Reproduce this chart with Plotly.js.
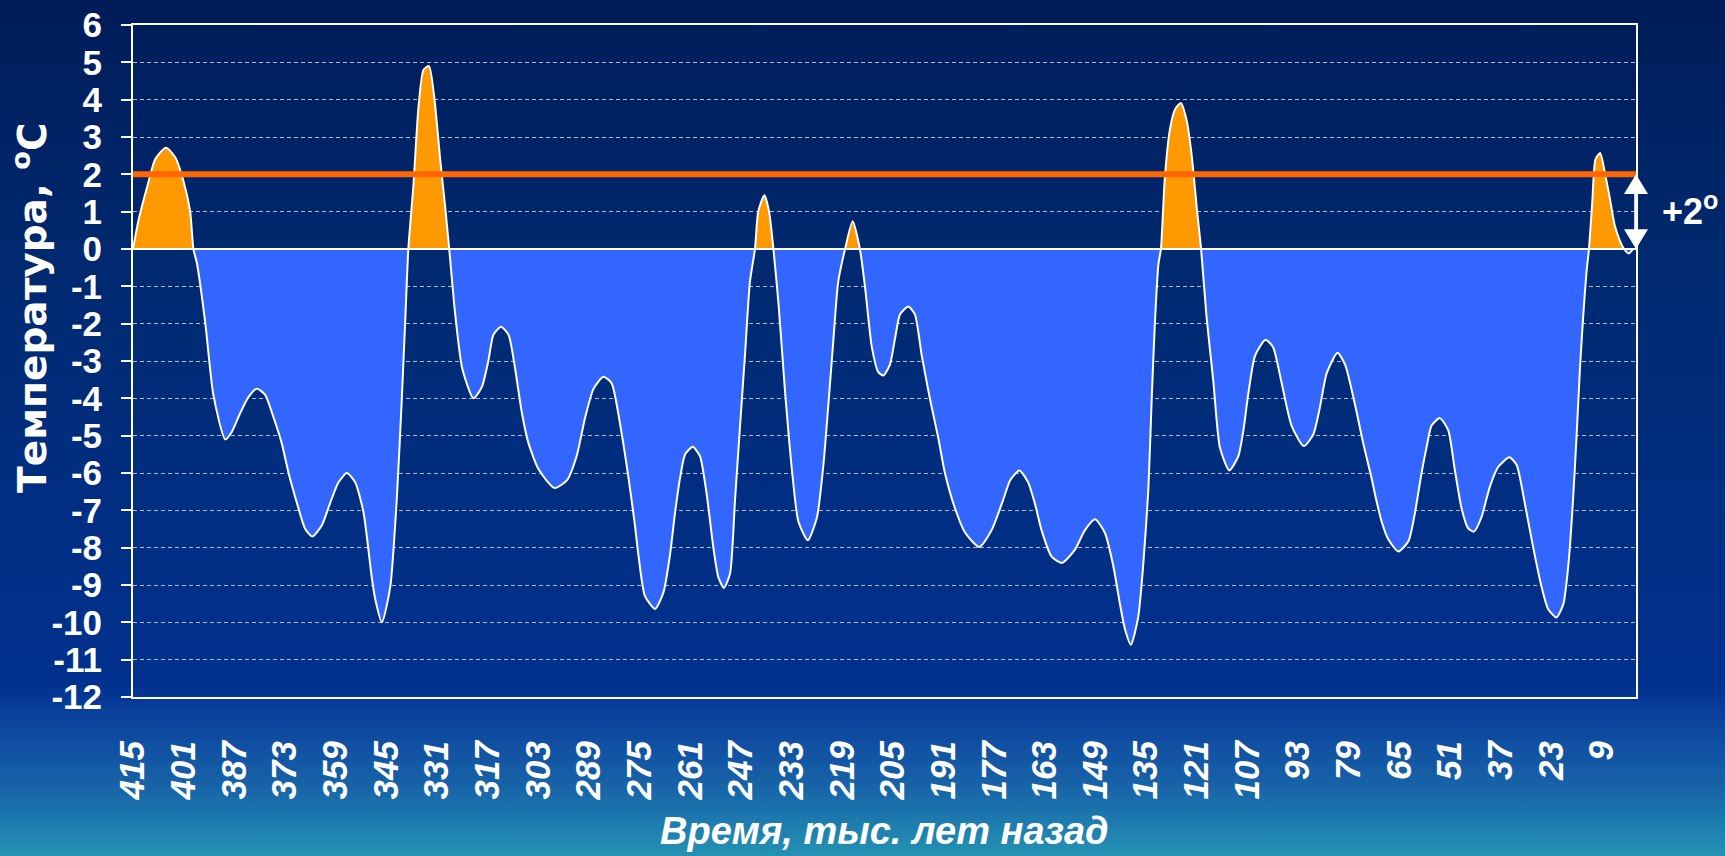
<!DOCTYPE html>
<html>
<head>
<meta charset="utf-8">
<script src="https://cdn.plot.ly/plotly-3.0.1.min.js"></script>
<style>
  html, body { margin: 0; padding: 0; width: 1725px; height: 856px; overflow: hidden; }
  body { background: linear-gradient(to bottom, #001c58 0%, #00296f 30%, #00318e 80%, #0a3f9c 83%, #1864a8 92%, #2392b3 100%); }
  #chart { width: 1725px; height: 856px; }
</style>
</head>
<body>
<div id="chart"></div>
<script>
// Time, thousand years ago
const years = [
  415, 413.5, 410.7, 408.9, 405.9, 403.3, 401.0, 399.2, 398.3, 397.3, 395.0, 392.8,
  389.5, 387.7, 385.4, 383.1, 380.8, 378.5, 376.2, 373.9, 372.0, 369.7, 367.4, 365.4,
  362.8, 360.5, 358.2, 355.9, 353.6, 351.3, 349.0, 348.0, 346.2, 343.9, 342.1, 340.7,
  339.8, 338.9, 337.5, 336.1, 334.7, 333.2, 331.7, 330.1, 328.7, 327.6, 326.0, 324.0,
  320.9, 318.6, 316.8, 315.4, 313.3, 311.2, 309.4, 307.5, 305.7, 302.9, 298.5, 295.1,
  292.4, 290.0, 287.7, 285.0, 282.7, 279.9, 278.1, 276.4, 275.3, 273.5, 270.7, 268.4,
  266.6, 265.2, 263.8, 262.4, 260.3, 258.3, 256.4, 254.6, 253.2, 251.7, 250.0, 248.6,
  247.2, 245.8, 244.5, 243.1, 242.2, 240.5, 239.2, 238.0, 236.6, 234.8, 232.9, 231.1,
  228.5, 226.0, 224.2, 222.8, 221.4, 220.1, 218.2, 216.1, 214.1, 212.7, 210.8, 209.0,
  207.6, 205.8, 204.4, 203.0, 200.7, 198.9, 197.0, 194.7, 192.4, 190.6, 187.8, 185.0,
  181.1, 177.7, 174.5, 172.6, 170.0, 167.6, 165.7, 163.9, 161.1, 158.3, 154.7, 151.9,
  149.1, 146.4, 144.1, 142.2, 140.8, 139.2, 137.2, 135.8, 134.4, 133.5, 132.6, 131.6,
  130.9, 129.8, 128.4, 127.0, 125.4, 123.8, 122.4, 121.0, 119.8, 118.3, 116.4, 114.6,
  112.0, 109.5, 108.1, 106.8, 104.9, 102.0, 99.9, 97.6, 94.8, 91.4, 88.8, 87.0,
  85.1, 82.1, 80.0, 77.3, 75.0, 72.7, 71.8, 69.9, 68.1, 65.3, 62.5, 60.7,
  58.9, 57.5, 56.1, 53.8, 51.5, 49.7, 47.8, 46.0, 44.4, 42.3, 40.0, 37.7,
  34.6, 32.6, 30.3, 28.0, 25.7, 23.9, 21.6, 19.7, 18.3, 17.0, 16.0, 15.1,
  14.2, 13.3, 12.6, 11.7, 10.8, 9.5, 8.2, 6.8, 5.5, 4.1, 2.9, 1.6, 0.4
];
// Temperature anomaly, °C
const temps = [
  0, 0.76, 1.8, 2.4, 2.71, 2.45, 1.8, 1.0, 0, -0.4, -2.0, -3.9,
  -5.1, -4.9, -4.4, -3.97, -3.74, -3.9, -4.5, -5.2, -6.0, -6.8, -7.5, -7.7,
  -7.4, -6.8, -6.25, -6.0, -6.25, -7.05, -8.8, -9.4, -10.0, -9.05, -6.7, -4.0,
  -2.0, 0, 1.7, 3.8, 4.8, 4.9, 4.03, 2.4, 1.1, 0, -1.7, -3.2,
  -4.0, -3.7, -3.0, -2.3, -2.08, -2.3, -3.2, -4.4, -5.2, -5.9, -6.4, -6.2,
  -5.55, -4.5, -3.74, -3.42, -3.6, -4.97, -6.1, -7.3, -8.2, -9.3, -9.64, -9.2,
  -8.2, -7.07, -6.13, -5.5, -5.3, -5.55, -6.6, -8.0, -8.8, -9.08, -8.7, -6.7,
  -4.7, -2.75, -0.88, 0, 1.0, 1.44, 1.0, 0, -1.46, -3.8, -5.9, -7.3,
  -7.8, -7.2, -5.8, -4.15, -2.4, -0.88, 0, 0.74, 0, -1.0, -2.63, -3.3,
  -3.39, -3.1, -2.4, -1.75, -1.54, -1.75, -2.86, -4.03, -5.08, -6.0, -6.95, -7.6,
  -7.98, -7.53, -6.72, -6.2, -5.93, -6.25, -6.83, -7.53, -8.24, -8.41, -8.06, -7.53,
  -7.24, -7.6, -8.47, -9.52, -10.2, -10.6, -9.87, -8.47, -6.48, -4.15, -2.04, -0.41,
  0, 1.93, 3.21, 3.74, 3.91, 3.45, 2.51, 1.11, 0, -1.81, -3.56, -5.32,
  -5.93, -5.55, -4.85, -3.91, -2.86, -2.43, -2.63, -3.56, -4.73, -5.28, -4.97, -4.26,
  -3.33, -2.78, -3.1, -4.15, -5.2, -6.13, -6.54, -7.3, -7.77, -8.1, -7.83, -7.07,
  -6.02, -5.32, -4.73, -4.53, -4.85, -5.9, -6.95, -7.48, -7.57, -7.18, -6.37, -5.84,
  -5.58, -5.78, -6.83, -8.0, -9.05, -9.64, -9.87, -9.52, -8.47, -6.72, -4.97, -3.21,
  -1.81, -0.64, 0, 1.23, 2.4, 2.57, 2.04, 1.34, 0.64, 0.23, 0, -0.12, 0
];
const tickYears = [415, 401, 387, 373, 359, 345, 331, 317, 303, 289, 275, 261, 247, 233,
  219, 205, 191, 177, 163, 149, 135, 121, 107, 93, 79, 65, 51, 37, 23, 9];
const tickLabels = tickYears.map(String);
const tempTicks = [-12, -11, -10, -9, -8, -7, -6, -5, -4, -3, -2, -1, 0, 1, 2, 3, 4, 5, 6];
const tempTickLabels = tempTicks.map(String);   // plain hyphen-minus as in the original
const thresholdValue = 2;
const xTitle = 'Время, тыс. лет назад';
const yTitle = 'Температура, <sup>o</sup>C';
const deltaLabel = '+2<sup>o</sup>';

const warm = temps.map(v => Math.max(v, 0));
const cold = temps.map(v => Math.min(v, 0));

const FONT = 'Liberation Sans, Arial, sans-serif';

const traces = [
  { x: years, y: cold, type: 'scatter', mode: 'lines', fill: 'tozeroy',
    fillcolor: '#3366FF', line: { width: 0, color: 'rgba(0,0,0,0)' }, hoverinfo: 'skip' },
  { x: years, y: warm, type: 'scatter', mode: 'lines', fill: 'tozeroy',
    fillcolor: '#FF9900', line: { width: 0, color: 'rgba(0,0,0,0)' }, hoverinfo: 'skip' },
  { x: years, y: temps, type: 'scatter', mode: 'lines',
    line: { color: '#FFFFFF', width: 2, shape: 'spline', smoothing: 0.6 } }
];

const layout = {
  width: 1725, height: 856,
  margin: { l: 133, r: 89, t: 25, b: 159 },
  paper_bgcolor: 'rgba(0,0,0,0)',
  plot_bgcolor: 'rgba(0,0,0,0)',
  showlegend: false,
  xaxis: {
    range: [415, -0.4], autorange: false,
    tickmode: 'array', tickvals: tickYears, ticktext: tickLabels,
    tickangle: -90,
    tickfont: { family: FONT, size: 35, color: '#FFFFFF', weight: 'bold', style: 'italic' },
    ticks: '', ticklabelstandoff: 28,
    showgrid: false, zeroline: false,
    showline: true, mirror: true, linecolor: '#FFFFFF', linewidth: 2
  },
  yaxis: {
    range: [-12, 6], autorange: false,
    tickmode: 'array', tickvals: tempTicks, ticktext: tempTickLabels,
    tickfont: { family: FONT, size: 35, color: '#FFFFFF', weight: 'bold' },
    ticks: 'outside', ticklen: 10, tickwidth: 2, tickcolor: '#FFFFFF',
    ticklabelstandoff: 12,
    showgrid: true, gridcolor: '#b4bcd4', gridwidth: 1, griddash: '4px,3px',
    zeroline: false,
    showline: true, mirror: true, linecolor: '#FFFFFF', linewidth: 2
  },
  shapes: [
    { type: 'line', xref: 'paper', yref: 'y', x0: 0, x1: 1, y0: 0, y1: 0,
      line: { color: '#FFFFFF', width: 2 }, layer: 'above' },
    { type: 'line', xref: 'paper', yref: 'y', x0: 0, x1: 1, y0: thresholdValue, y1: thresholdValue,
      line: { color: '#FF6600', width: 6 }, layer: 'above' },
    { type: 'path', xref: 'paper', yref: 'y', xsizemode: 'pixel', xanchor: 1,
      path: 'M -12,1.47 L 0,2 L 12,1.47 L 1.8,1.47 L 1.8,0.53 L 12,0.53 L 0,0 L -12,0.53 L -1.8,0.53 L -1.8,1.47 Z',
      fillcolor: '#FFFFFF', line: { width: 0 }, layer: 'above' }
  ],
  annotations: [
    { text: yTitle, xref: 'paper', yref: 'paper', x: 0, y: 0.579, xshift: -103,
      xanchor: 'center', yanchor: 'middle', textangle: -90, showarrow: false,
      font: { family: 'DejaVu Sans, sans-serif', size: 39, color: '#FFFFFF', weight: 'bold' } },
    { text: xTitle, xref: 'paper', yref: 'paper', x: 0.5, y: 0, yshift: -134,
      xanchor: 'center', yanchor: 'middle', showarrow: false,
      font: { family: FONT, size: 38, color: '#FFFFFF', weight: 'bold', style: 'italic' } },
    { text: deltaLabel, xref: 'paper', yref: 'y', x: 1, y: 1.07, xshift: 54,
      xanchor: 'center', yanchor: 'middle', showarrow: false,
      font: { family: FONT, size: 36, color: '#FFFFFF', weight: 'bold' } }
  ]
};

Plotly.newPlot('chart', traces, layout, { displayModeBar: false, staticPlot: true });
</script>
</body>
</html>
